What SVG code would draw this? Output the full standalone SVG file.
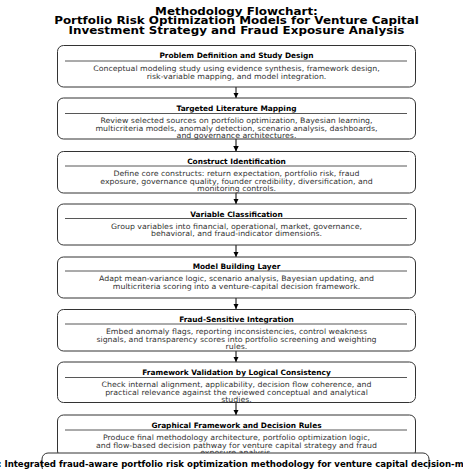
<svg xmlns="http://www.w3.org/2000/svg" width="463" height="469" viewBox="0 0 463 469">
<style>
text{font-family:"DejaVu Sans","Noto Sans",sans-serif;text-anchor:middle}
.t{font-size:10px;font-weight:bold;fill:#000}
.h{font-size:7.4px;font-weight:bold;fill:#000}
.b{font-size:7.4px;fill:#333}
.box{fill:#fff;stroke:#333;stroke-width:1}
.sep{stroke:#444;stroke-width:0.9}
.ar{stroke:#000;stroke-width:1;fill:none}
.out{font-size:8.6px;font-weight:bold;fill:#000;text-anchor:start}
</style>
<defs>
<marker id="ah" viewBox="0 0 10 10" refX="10" refY="5" markerWidth="5.5" markerHeight="5.5" markerUnits="userSpaceOnUse" orient="auto">
<path d="M0,0 L10,5 L0,10 z" fill="#000"/>
</marker>
</defs>
<g id="title" transform="translate(236.5,0) scale(1.19,1) translate(-236.5,0)">
<text class="t" x="236.5" y="15">Methodology Flowchart:</text>
<text class="t" x="236.5" y="24.3">Portfolio Risk Optimization Models for Venture Capital</text>
<text class="t" x="236.5" y="33.6">Investment Strategy and Fraud Exposure Analysis</text>
</g>
<g id="connectors">
<line class="ar" x1="236" y1="87" x2="236" y2="98" marker-end="url(#ah)"/>
<line class="ar" x1="236" y1="139" x2="236" y2="151.5" marker-end="url(#ah)"/>
<line class="ar" x1="236" y1="193" x2="236" y2="204" marker-end="url(#ah)"/>
<line class="ar" x1="236" y1="245" x2="236" y2="257" marker-end="url(#ah)"/>
<line class="ar" x1="236" y1="298" x2="236" y2="309" marker-end="url(#ah)"/>
<line class="ar" x1="236" y1="351" x2="236" y2="362" marker-end="url(#ah)"/>
<line class="ar" x1="236" y1="402" x2="236" y2="415" marker-end="url(#ah)"/>
</g>
<g id="n1">
<rect class="box" x="57.5" y="45.5" width="358" height="41.5" rx="6"/>
<text class="h" x="236.5" y="58">Problem Definition and Study Design</text>
<line class="sep" x1="65" y1="61" x2="407" y2="61"/>
<g transform="translate(236.5,0) scale(1.06,1) translate(-236.5,0)">
<text class="b" x="236.5" y="71.5">Conceptual modeling study using evidence synthesis, framework design,</text>
<text class="b" x="236.5" y="79">risk-variable mapping, and model integration.</text>
</g>
</g>
<g id="n2">
<rect class="box" x="57.5" y="98" width="358" height="41" rx="6"/>
<text class="h" x="236.5" y="111">Targeted Literature Mapping</text>
<line class="sep" x1="65" y1="113.5" x2="407" y2="113.5"/>
<g transform="translate(236.5,0) scale(1.06,1) translate(-236.5,0)">
<text class="b" x="236.5" y="123.5">Review selected sources on portfolio optimization, Bayesian learning,</text>
<text class="b" x="236.5" y="131">multicriteria models, anomaly detection, scenario analysis, dashboards,</text>
<text class="b" x="236.5" y="138.5">and governance architectures.</text>
</g>
</g>
<g id="n3">
<rect class="box" x="57.5" y="151.5" width="358" height="41.5" rx="6"/>
<text class="h" x="236.5" y="163.5">Construct Identification</text>
<line class="sep" x1="65" y1="166" x2="407" y2="166"/>
<g transform="translate(236.5,0) scale(1.06,1) translate(-236.5,0)">
<text class="b" x="236.5" y="176.5">Define core constructs: return expectation, portfolio risk, fraud</text>
<text class="b" x="236.5" y="184">exposure, governance quality, founder credibility, diversification, and</text>
<text class="b" x="236.5" y="191.5">monitoring controls.</text>
</g>
</g>
<g id="n4">
<rect class="box" x="57.5" y="204" width="358" height="41" rx="6"/>
<text class="h" x="236.5" y="216.5">Variable Classification</text>
<line class="sep" x1="65" y1="218.5" x2="407" y2="218.5"/>
<g transform="translate(236.5,0) scale(1.06,1) translate(-236.5,0)">
<text class="b" x="236.5" y="229">Group variables into financial, operational, market, governance,</text>
<text class="b" x="236.5" y="236.5">behavioral, and fraud-indicator dimensions.</text>
</g>
</g>
<g id="n5">
<rect class="box" x="57.5" y="257" width="358" height="41" rx="6"/>
<text class="h" x="236.5" y="269">Model Building Layer</text>
<line class="sep" x1="65" y1="271" x2="407" y2="271"/>
<g transform="translate(236.5,0) scale(1.06,1) translate(-236.5,0)">
<text class="b" x="236.5" y="281.5">Adapt mean-variance logic, scenario analysis, Bayesian updating, and</text>
<text class="b" x="236.5" y="289">multicriteria scoring into a venture-capital decision framework.</text>
</g>
</g>
<g id="n6">
<rect class="box" x="57.5" y="309.5" width="358" height="41.5" rx="6"/>
<text class="h" x="236.5" y="321.5">Fraud-Sensitive Integration</text>
<line class="sep" x1="65" y1="324" x2="407" y2="324"/>
<g transform="translate(236.5,0) scale(1.06,1) translate(-236.5,0)">
<text class="b" x="236.5" y="334.5">Embed anomaly flags, reporting inconsistencies, control weakness</text>
<text class="b" x="236.5" y="342">signals, and transparency scores into portfolio screening and weighting</text>
<text class="b" x="236.5" y="349.5">rules.</text>
</g>
</g>
<g id="n7">
<rect class="box" x="57.5" y="362" width="358" height="40.5" rx="6"/>
<text class="h" x="236.5" y="374.5">Framework Validation by Logical Consistency</text>
<line class="sep" x1="65" y1="377.5" x2="407" y2="377.5"/>
<g transform="translate(236.5,0) scale(1.06,1) translate(-236.5,0)">
<text class="b" x="236.5" y="387.5">Check internal alignment, applicability, decision flow coherence, and</text>
<text class="b" x="236.5" y="395">practical relevance against the reviewed conceptual and analytical</text>
<text class="b" x="236.5" y="402.5">studies.</text>
</g>
</g>
<g id="n8">
<rect class="box" x="57.5" y="415" width="358" height="42" rx="6"/>
<text class="h" x="236.5" y="427.5">Graphical Framework and Decision Rules</text>
<line class="sep" x1="65" y1="430" x2="407" y2="430"/>
<g transform="translate(236.5,0) scale(1.06,1) translate(-236.5,0)">
<text class="b" x="236.5" y="440.5">Produce final methodology architecture, portfolio optimization logic,</text>
<text class="b" x="236.5" y="448">and flow-based decision pathway for venture capital strategy and fraud</text>
<text class="b" x="236.5" y="455.5">exposure analysis.</text>
</g>
</g>
<g id="n9">
<rect class="box" x="42" y="453" width="387" height="20" rx="6"/>
<text class="out" x="-2" y="466.5">: Integrated fraud-aware portfolio risk optimization methodology for venture capital decision-making</text>
</g>
</svg>
